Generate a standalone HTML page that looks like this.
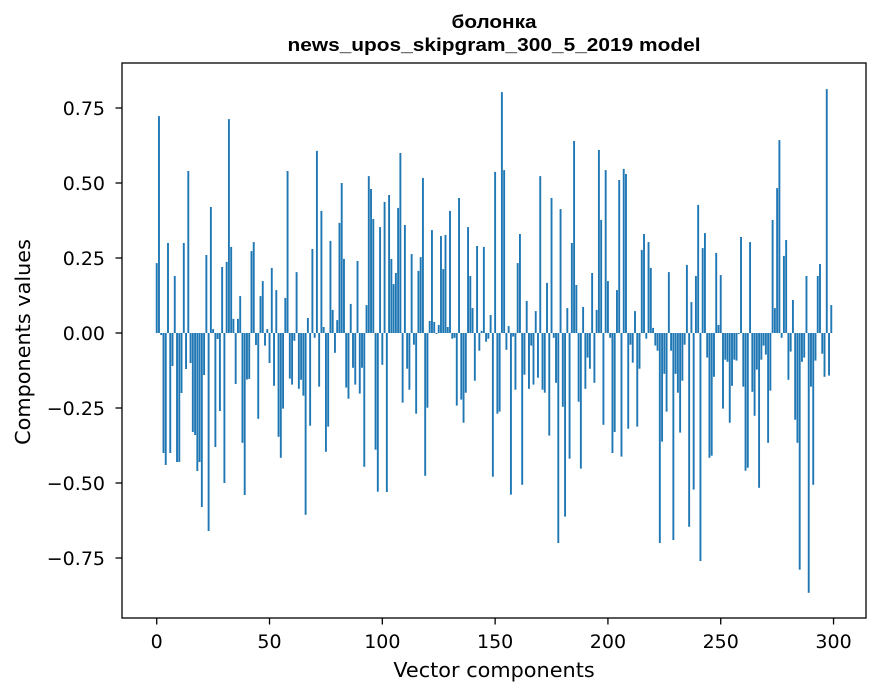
<!DOCTYPE html>
<html><head><meta charset="utf-8">
<style>
html,body{margin:0;padding:0;background:#fff;}
svg{display:block;font-family:"DejaVu Sans","Liberation Sans",sans-serif;}
</style></head>
<body>
<svg id="chart" width="880" height="696" viewBox="0 0 880 696" xmlns="http://www.w3.org/2000/svg">
<rect x="0" y="0" width="880" height="696" fill="#fff"/>
<text x="494" y="28" text-anchor="middle" font-size="18" font-weight="bold" font-family="Liberation Sans, sans-serif" textLength="85" lengthAdjust="spacingAndGlyphs">болонка</text>
<text x="494" y="51" text-anchor="middle" font-size="18" font-weight="bold" font-family="Liberation Sans, sans-serif" textLength="413" lengthAdjust="spacingAndGlyphs">news_upos_skipgram_300_5_2019 model</text>
<g id="bars"></g>
<g id="axes"></g>
<rect x="122" y="63" width="744" height="555" fill="none" stroke="#000" stroke-width="1.3"/>
<text x="494" y="677" text-anchor="middle" font-size="20.8">Vector components</text>
<text transform="translate(30,342) rotate(-90)" text-anchor="middle" font-size="20.8">Components values</text>
</svg>
<script>
const values = [
0.233,0.723,-0.007,-0.40,-0.44,0.30,-0.40,-0.11,0.19,-0.43,
-0.43,-0.20,0.30,-0.12,0.54,-0.10,-0.33,-0.34,-0.46,-0.43,
-0.58,-0.14,0.26,-0.66,0.42,0.013,-0.38,-0.02,-0.26,0.22,
-0.50,0.237,0.713,0.287,0.047,-0.17,0.047,0.123,-0.366,-0.54,
-0.155,-0.153,0.273,0.303,-0.04,-0.286,0.123,0.173,-0.042,0.013,
-0.10,0.217,-0.176,0.143,-0.346,-0.416,-0.252,0.117,0.54,-0.152,
-0.172,-0.026,0.203,-0.186,-0.156,-0.209,-0.606,0.05,-0.309,0.28,
-0.016,0.607,-0.179,0.407,0.02,-0.396,-0.312,0.307,0.077,-0.066,
0.043,0.367,0.50,0.247,-0.182,-0.219,0.097,-0.116,-0.172,0.24,
-0.202,-0.116,-0.446,0.093,0.523,0.48,0.38,-0.389,-0.529,0.353,
-0.106,0.437,-0.53,0.46,0.247,0.163,0.20,0.417,0.60,-0.232,
0.36,-0.119,-0.189,0.263,-0.039,-0.269,0.207,0.253,0.517,-0.476,
-0.249,0.04,0.343,0.037,-0.003,0.027,0.323,0.213,0.327,0.02,
0.407,-0.019,-0.016,-0.242,0.45,-0.222,-0.299,-0.199,0.353,0.19,
0.083,-0.159,0.29,-0.059,0.007,0.287,-0.029,-0.019,0.06,-0.479,
0.537,-0.269,-0.262,0.803,0.543,-0.056,0.023,-0.539,-0.012,-0.189,
0.233,0.33,-0.506,-0.139,0.107,-0.186,-0.042,-0.172,0.073,-0.149,
0.523,-0.189,-0.199,0.167,-0.342,0.45,-0.016,-0.166,-0.70,0.413,
-0.246,-0.612,0.083,-0.419,0.30,0.64,0.16,-0.229,-0.452,0.087,
-0.186,-0.082,-0.119,0.20,-0.166,0.077,0.61,0.377,-0.306,0.543,
0.173,-0.016,-0.40,-0.33,0.143,0.51,-0.412,0.547,0.53,-0.319,
-0.039,-0.099,0.073,-0.312,-0.119,0.277,0.33,-0.019,0.303,0.217,
0.017,-0.042,-0.059,-0.70,-0.362,-0.136,-0.262,0.203,-0.059,-0.69,
-0.136,-0.199,-0.332,-0.159,-0.039,0.227,-0.646,0.103,-0.522,0.19,
0.427,-0.76,0.283,0.333,-0.082,-0.416,-0.409,-0.146,0.267,0.027,
0.193,-0.252,-0.089,-0.096,-0.299,-0.176,-0.089,-0.092,-0.003,0.32,
-0.179,-0.459,-0.449,0.303,-0.196,-0.276,-0.122,-0.516,-0.089,-0.042,
-0.072,-0.366,-0.192,0.377,0.083,0.483,0.643,-0.016,0.257,0.31,
-0.156,-0.062,0.11,-0.289,-0.366,-0.789,-0.096,-0.082,0.19,-0.866,
-0.179,-0.506,-0.092,0.19,0.23,-0.069,-0.146,0.813,-0.142,0.093
];
const xTicks = [0,50,100,150,200,250,300];
const yTicks = [0.75,0.5,0.25,0,-0.25,-0.5,-0.75];
const yTickLabels = ["0.75","0.50","0.25","0.00","\u22120.25","\u22120.50","\u22120.75"];

const L=122,R=866,T=63,B=618;
const xMin=-15.39,xMax=314.39,yMin=-0.95,yMax=0.9;
function xs(v){return L+(v-xMin)/(xMax-xMin)*(R-L);}
function ys(v){return T+(yMax-v)/(yMax-yMin)*(B-T);}
const NS="http://www.w3.org/2000/svg";
const bars=document.getElementById('bars');
values.forEach(function(v,i){
  const r=document.createElementNS(NS,'rect');
  const x0=xs(i-0.42),x1=xs(i+0.42);
  const y0=ys(Math.max(v,0)),y1=ys(Math.min(v,0));
  r.setAttribute('x',x0);r.setAttribute('width',x1-x0);
  r.setAttribute('y',y0);r.setAttribute('height',Math.max(y1-y0,0.3));
  r.setAttribute('fill','#1f77b4');
  
  
  bars.appendChild(r);
});
const axes=document.getElementById('axes');
xTicks.forEach(function(t){
  const x=xs(t);
  const l=document.createElementNS(NS,'line');
  l.setAttribute('x1',x);l.setAttribute('x2',x);l.setAttribute('y1',B);l.setAttribute('y2',B+6.5);
  l.setAttribute('stroke','#000');l.setAttribute('stroke-width','1.3');
  
  
  axes.appendChild(l);
  const tx=document.createElementNS(NS,'text');
  tx.setAttribute('x',x);tx.setAttribute('y',B+30);tx.setAttribute('text-anchor','middle');tx.setAttribute('font-size','19');
  tx.textContent=String(t);
  
  
  axes.appendChild(tx);
});
yTicks.forEach(function(t,k){
  const y=ys(t);
  const l=document.createElementNS(NS,'line');
  l.setAttribute('x1',L-6.5);l.setAttribute('x2',L);l.setAttribute('y1',y);l.setAttribute('y2',y);
  l.setAttribute('stroke','#000');l.setAttribute('stroke-width','1.3');
  
  
  axes.appendChild(l);
  const tx=document.createElementNS(NS,'text');
  tx.setAttribute('x',L-17);tx.setAttribute('y',y+7);tx.setAttribute('text-anchor','end');tx.setAttribute('font-size','19');
  tx.textContent=yTickLabels[k];
  
  
  axes.appendChild(tx);
});
</script>
</body></html>
